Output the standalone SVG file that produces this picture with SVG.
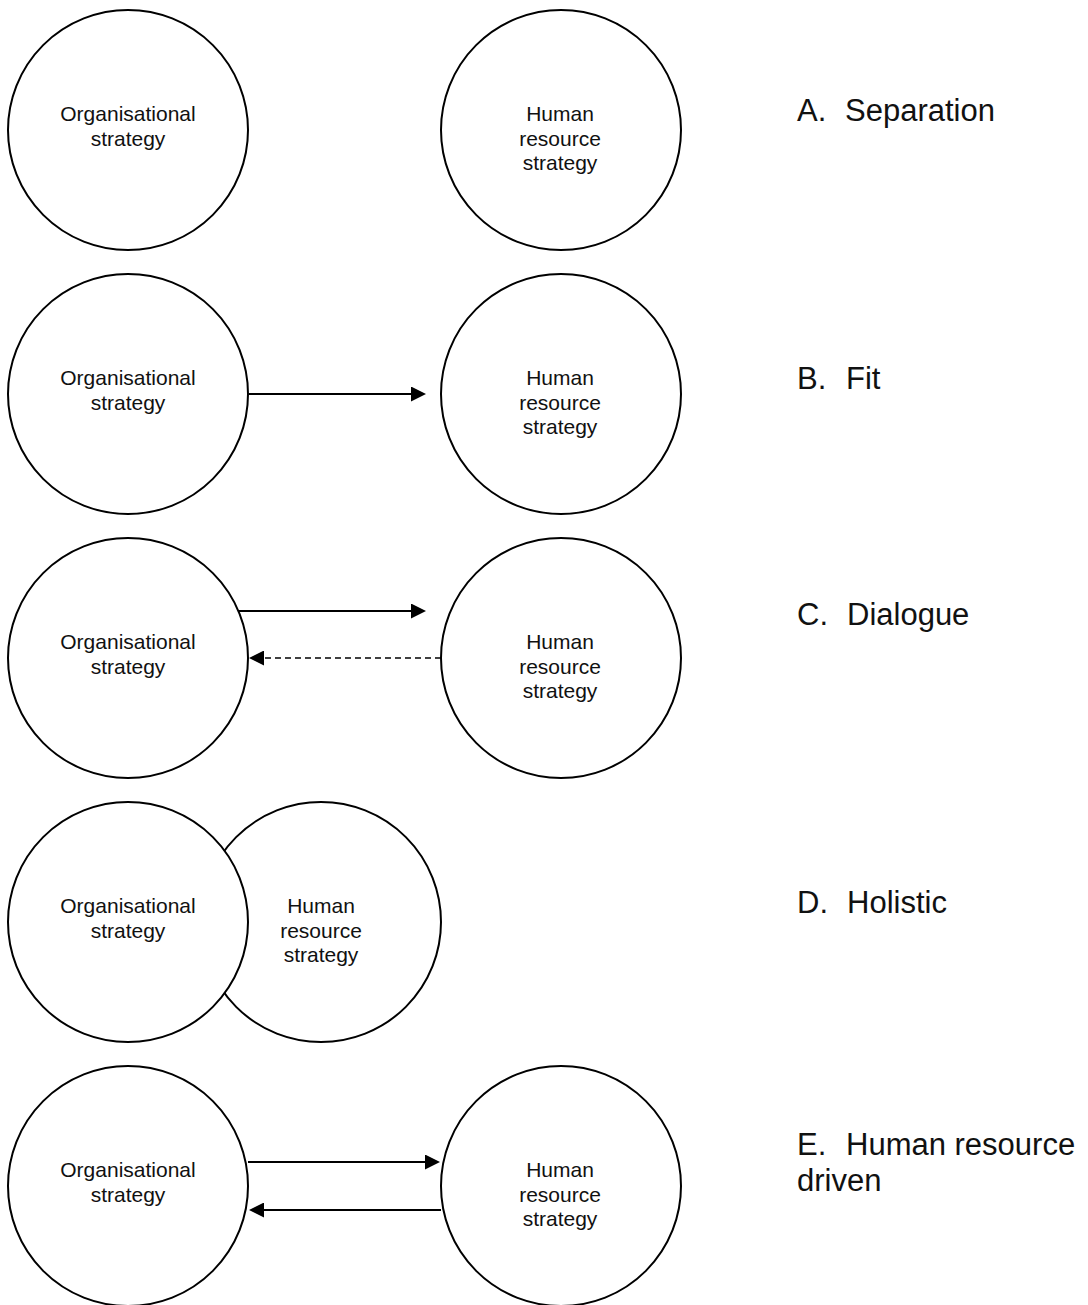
<svg xmlns="http://www.w3.org/2000/svg" width="1088" height="1305" viewBox="0 0 1088 1305">
  <style>
    .node circle { fill: #ffffff; stroke: #000000; stroke-width: 2; }
    .node text { font-family: "Liberation Sans", Arial, sans-serif; font-size: 21px; fill: #111111; text-anchor: middle; }
    .label { font-family: "Liberation Sans", Arial, sans-serif; font-size: 31px; fill: #111111; }
    .conn line { stroke: #000000; stroke-width: 2; fill: none; }
    .conn line.dashed { stroke-width: 1.5; stroke-dasharray: 6 4; }
  </style>
  <defs>
    <marker id="arrow" viewBox="0 0 15 15" refX="0" refY="7.5" markerWidth="15" markerHeight="15" markerUnits="userSpaceOnUse" orient="auto">
      <path d="M0,0 L15,7.5 L0,15 z" fill="#000000"/>
    </marker>
  </defs>
  <rect width="1088" height="1305" fill="#ffffff"/>

  <!-- A. Separation -->
  <g id="a-org" class="node">
    <circle cx="128" cy="130" r="120"/>
    <text x="128" y="121">Organisational</text>
    <text x="128" y="146">strategy</text>
  </g>
  <g id="a-hr" class="node">
    <circle cx="561" cy="130" r="120"/>
    <text x="560" y="121">Human</text>
    <text x="560" y="146">resource</text>
    <text x="560" y="170">strategy</text>
  </g>

  <!-- B. Fit -->
  <g id="b-org" class="node">
    <circle cx="128" cy="394" r="120"/>
    <text x="128" y="385">Organisational</text>
    <text x="128" y="410">strategy</text>
  </g>
  <g id="b-hr" class="node">
    <circle cx="561" cy="394" r="120"/>
    <text x="560" y="385">Human</text>
    <text x="560" y="410">resource</text>
    <text x="560" y="434">strategy</text>
  </g>

  <!-- C. Dialogue -->
  <g id="c-org" class="node">
    <circle cx="128" cy="658" r="120"/>
    <text x="128" y="649">Organisational</text>
    <text x="128" y="674">strategy</text>
  </g>
  <g id="c-hr" class="node">
    <circle cx="561" cy="658" r="120"/>
    <text x="560" y="649">Human</text>
    <text x="560" y="674">resource</text>
    <text x="560" y="698">strategy</text>
  </g>

  <!-- D. Holistic: overlapping circles, left one drawn on top -->
  <g id="d-hr" class="node">
    <circle cx="321" cy="922" r="120"/>
    <text x="321" y="913">Human</text>
    <text x="321" y="938">resource</text>
    <text x="321" y="962">strategy</text>
  </g>
  <g id="d-org" class="node">
    <circle cx="128" cy="922" r="120"/>
    <text x="128" y="913">Organisational</text>
    <text x="128" y="938">strategy</text>
  </g>

  <!-- E. Human resource driven -->
  <g id="e-org" class="node">
    <circle cx="128" cy="1186" r="120"/>
    <text x="128" y="1177">Organisational</text>
    <text x="128" y="1202">strategy</text>
  </g>
  <g id="e-hr" class="node">
    <circle cx="561" cy="1186" r="120"/>
    <text x="560" y="1177">Human</text>
    <text x="560" y="1202">resource</text>
    <text x="560" y="1226">strategy</text>
  </g>

  <!-- connectors -->
  <g id="connectors" class="conn">
    <line x1="249" y1="394" x2="411" y2="394" marker-end="url(#arrow)"/>
    <line x1="238" y1="611" x2="411" y2="611" marker-end="url(#arrow)"/>
    <line class="dashed" x1="441" y1="658" x2="264" y2="658" marker-end="url(#arrow)"/>
    <line x1="248" y1="1162" x2="425" y2="1162" marker-end="url(#arrow)"/>
    <line x1="441" y1="1210" x2="264" y2="1210" marker-end="url(#arrow)"/>
  </g>

  <!-- row captions -->
  <g id="captions">
    <text class="label" x="797" y="121">A.</text>
    <text class="label" x="845" y="121">Separation</text>
    <text class="label" x="797" y="389">B.</text>
    <text class="label" x="846" y="389">Fit</text>
    <text class="label" x="797" y="625">C.</text>
    <text class="label" x="847" y="625">Dialogue</text>
    <text class="label" x="797" y="913">D.</text>
    <text class="label" x="847" y="913">Holistic</text>
    <text class="label" x="797" y="1155">E.</text>
    <text class="label" x="846" y="1155">Human resource</text>
    <text class="label" x="797" y="1191">driven</text>
  </g>
</svg>
